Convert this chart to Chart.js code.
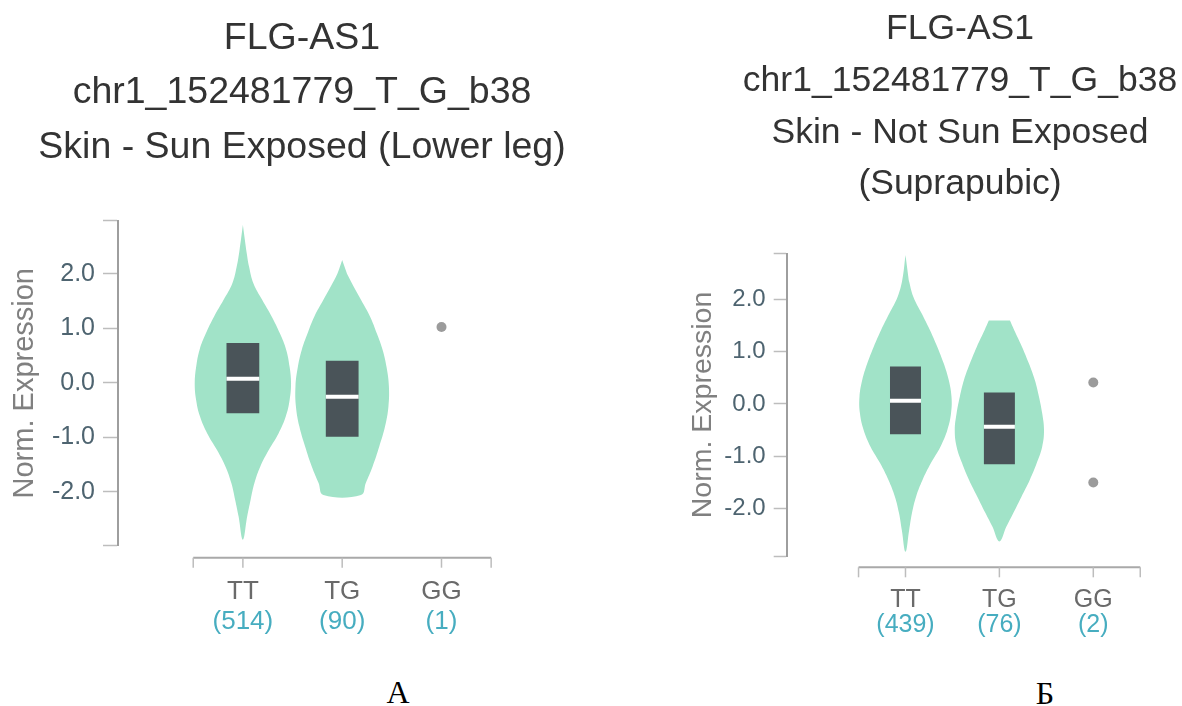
<!DOCTYPE html>
<html>
<head>
<meta charset="utf-8">
<title>FLG-AS1 chr1_152481779_T_G_b38 violins</title>
<script src="https://cdn.jsdelivr.net/npm/chart.js"></script>
<style>
  body { margin: 0; background: #fff; overflow: hidden; width: 1182px; height: 706px; position: relative; }
  canvas { position: absolute; top: 0; }
  #chartA { left: 0; }
  #chartB { left: 660px; }
  .letter { position: absolute; font-family: "Liberation Serif", "Times New Roman", serif; font-size: 32px; line-height: 1; color: #000; transform: translate(-50%, -50%); }
</style>
</head>
<body>
<canvas id="chartA" width="604" height="650"></canvas>
<canvas id="chartB" width="600" height="650"></canvas>
<div class="letter" style="left:398px; top:692px">А</div>
<div class="letter" style="left:1045px; top:693px">Б</div>

<script>
const genotypes = ['TT', 'TG', 'GG'];
const yTicks = [-2, -1, 0, 1, 2];

// panel A - Skin, Sun Exposed (Lower leg)
const titleA = ['FLG-AS1', 'chr1_152481779_T_G_b38', 'Skin - Sun Exposed (Lower leg)'];
const countsA = [514, 90, 1];
const yRangeA = [-2.99, 2.97];
const vA_TT_expr = [2.89, 2.43, 2.12, 1.82, 1.52, 1.21, 0.90, 0.60, 0.29, -0.01, -0.32, -0.62, -0.93, -1.23, -1.54, -1.84, -2.15, -2.45, -2.88];
const vA_TT_dens = [0, 0.07, 0.13, 0.22, 0.40, 0.60, 0.77, 0.90, 0.97, 1.0, 0.97, 0.89, 0.74, 0.54, 0.36, 0.24, 0.16, 0.09, 0];
const vA_TG_expr = [2.25, 2.00, 1.76, 1.52, 1.21, 0.90, 0.60, 0.29, -0.07, -0.44, -0.80, -1.17, -1.54, -1.84, -2.06];
const vA_TG_dens = [0, 0.10, 0.24, 0.39, 0.58, 0.72, 0.84, 0.92, 0.97, 0.96, 0.89, 0.77, 0.63, 0.49, 0.39];
const q1A = [-0.56, -0.99];
const medianA = [0.07, -0.26];
const q3A = [0.73, 0.40];
const ggA = [1.02];

// panel B - Skin, Not Sun Exposed (Suprapubic)
const titleB = ['FLG-AS1', 'chr1_152481779_T_G_b38', 'Skin - Not Sun Exposed', '(Suprapubic)'];
const countsB = [439, 76, 2];
const yRangeB = [-2.92, 2.88];
const vB_TT_expr = [2.86, 2.38, 2.06, 1.74, 1.42, 1.10, 0.78, 0.46, 0.14, -0.18, -0.50, -0.82, -1.14, -1.46, -1.78, -2.10, -2.42, -2.84];
const vB_TT_dens = [0, 0.07, 0.17, 0.35, 0.53, 0.69, 0.83, 0.94, 1.0, 0.99, 0.91, 0.76, 0.55, 0.37, 0.23, 0.14, 0.08, 0];
const vB_TG_expr = [1.60, 1.42, 1.10, 0.78, 0.46, 0.14, -0.18, -0.50, -0.82, -1.14, -1.46, -1.78, -2.10, -2.36, -2.64];
const vB_TG_dens = [0.23, 0.32, 0.49, 0.64, 0.77, 0.86, 0.93, 0.97, 0.93, 0.81, 0.66, 0.48, 0.30, 0.15, 0];
const q1B = [-0.58, -1.16];
const medianB = [0.06, -0.44];
const q3B = [0.72, 0.22];
const ggB = [0.41, -1.51];

const FONT = "'Liberation Sans', Arial, sans-serif";
const VIOLIN = '#a1e3c8';
const BOX = '#4a5459';

// layout of each panel, in canvas pixels (xSpan: x-scale range so the plot sits where the original does)
const layoutA = { title: 37.5, titleLine: 54.5, titlePad: [11.25, 46], axisW: 118, xSpan: [-1.2575, 3.586], padBottom: 12,
  tickFont: 25, tickLen: 15, yTitleFont: 29, yTitlePad: 7.6, xFont: 26, xPad: [33, 4], xH: [59.3, 33], gap: 12, half: 0.485 };
const layoutB = { title: 35.5, titleLine: 51.7, titlePad: [3.65, 43.5], axisW: 126.7, xSpan: [-1.265, 3.722], padBottom: 9.5,
  tickFont: 24, tickLen: 13, yTitleFont: 28.5, yTitlePad: 26, xFont: 25, xPad: [31.5, 0], xH: [56.5, 28], gap: 11.3, half: 0.49 };

// violin outline: left side top->bottom, then right side bottom->top
function violinPoints(idx, expr, dens, half) {
  const left = expr.map((y, i) => ({ x: idx - dens[i] * half, y }));
  const right = expr.map((y, i) => ({ x: idx + dens[i] * half, y, d: dens[i] }))
    .filter(p => p.d > 0).reverse().map(p => ({ x: p.x, y: p.y }));
  return left.concat(right);
}

// d3-style detached x domain line with outer ticks
const xDomain = {
  id: 'xDomain',
  afterDraw(chart, args, opts) {
    const { ctx, chartArea, scales } = chart;
    const x = scales.x;
    const y0 = chartArea.bottom + opts.gap;
    const lo = -0.5, hi = genotypes.length - 0.5;
    ctx.save();
    ctx.strokeStyle = '#a9a9a9';
    ctx.lineWidth = 2;
    ctx.beginPath();
    ctx.moveTo(x.getPixelForValue(lo), y0);
    ctx.lineTo(x.getPixelForValue(hi), y0);
    ctx.stroke();
    ctx.strokeStyle = '#bdbdbd';
    ctx.lineWidth = 1.5;
    [lo, ...genotypes.map((g, i) => i), hi].forEach(v => {
      const px = x.getPixelForValue(v);
      ctx.beginPath();
      ctx.moveTo(px, y0);
      ctx.lineTo(px, y0 + 10);
      ctx.stroke();
    });
    ctx.restore();
  }
};

function makePanel(id, L, title, counts, yRange, violins, q1, med, q3, gg) {
  const datasets = [];
  violins.forEach(([expr, dens], i) => {
    datasets.push({ type: 'line', data: violinPoints(i, expr, dens, L.half), fill: 'shape',
      backgroundColor: VIOLIN, borderColor: 'rgba(0,0,0,0)', borderWidth: 0, pointRadius: 0, tension: 0.4, order: 4 });
  });
  datasets.push({ type: 'bar', data: q1.map((v, i) => ({ x: i, y: [v, q3[i]] })), backgroundColor: BOX,
    borderWidth: 0, categoryPercentage: 1, barPercentage: 0.33, order: 3 });
  med.forEach((m, i) => {
    datasets.push({ type: 'line', data: [{ x: i - 0.165, y: m }, { x: i + 0.165, y: m }], borderColor: '#ffffff',
      borderWidth: 4, pointRadius: 0, fill: false, order: 2 });
  });
  datasets.push({ type: 'scatter', data: gg.map(v => ({ x: 2, y: v })), backgroundColor: '#9b9b9b',
    borderWidth: 0, pointRadius: 5, order: 1 });

  const catTicks = s => { s.ticks = genotypes.map((g, i) => ({ value: i })); };
  const [xMin, xMax] = L.xSpan;

  new Chart(document.getElementById(id), {
    type: 'scatter',
    data: { datasets },
    options: {
      responsive: false,
      animation: false,
      events: [],
      layout: { padding: { left: 0, top: 0, right: 0, bottom: L.padBottom } },
      plugins: {
        legend: { display: false },
        tooltip: { enabled: false },
        title: { display: true, text: title, color: '#333',
          font: { family: FONT, size: L.title, weight: 'normal', lineHeight: L.titleLine + 'px' },
          padding: { top: L.titlePad[0], bottom: L.titlePad[1] } },
        xDomain: { gap: L.gap }
      },
      scales: {
        x: {
          type: 'linear', position: 'bottom', min: xMin, max: xMax, offset: false,
          afterBuildTicks: catTicks,
          afterFit: s => { s.height = L.xH[0]; },
          grid: { display: false, drawTicks: false, offset: false }, border: { display: false },
          ticks: { autoSkip: false, maxRotation: 0, padding: L.xPad[0], color: '#6a6a6a',
            font: { family: FONT, size: L.xFont, lineHeight: 1 }, callback: v => genotypes[v] }
        },
        x2: {
          type: 'linear', position: 'bottom', min: xMin, max: xMax, offset: false, weight: 1,
          afterBuildTicks: catTicks,
          afterFit: s => { s.height = L.xH[1]; },
          grid: { display: false, drawTicks: false, offset: false }, border: { display: false },
          ticks: { autoSkip: false, maxRotation: 0, padding: L.xPad[1], color: '#47adc0',
            font: { family: FONT, size: L.xFont, lineHeight: 1 }, callback: v => '(' + counts[v] + ')' }
        },
        y: {
          type: 'linear', position: 'left', min: yRange[0], max: yRange[1],
          afterBuildTicks: s => { s.ticks = [yRange[0], ...yTicks, yRange[1]].map(v => ({ value: v })); },
          afterFit: s => { s.width = L.axisW; },
          grid: { display: true, drawOnChartArea: false, drawTicks: true, tickLength: L.tickLen,
            tickColor: '#bdbdbd', tickWidth: 1.5 },
          border: { display: true, color: '#9e9e9e', width: 2 },
          ticks: { padding: 8, color: '#4e6470', font: { family: FONT, size: L.tickFont },
            callback: v => yTicks.includes(v) ? v.toFixed(1) : '' },
          title: { display: true, text: 'Norm. Expression', color: '#808080',
            font: { family: FONT, size: L.yTitleFont }, padding: { top: L.yTitlePad, bottom: 0 } }
        }
      }
    },
    plugins: [xDomain]
  });
}

makePanel('chartA', layoutA, titleA, countsA, yRangeA,
  [[vA_TT_expr, vA_TT_dens], [vA_TG_expr, vA_TG_dens]], q1A, medianA, q3A, ggA);
makePanel('chartB', layoutB, titleB, countsB, yRangeB,
  [[vB_TT_expr, vB_TT_dens], [vB_TG_expr, vB_TG_dens]], q1B, medianB, q3B, ggB);
</script>
</body>
</html>
